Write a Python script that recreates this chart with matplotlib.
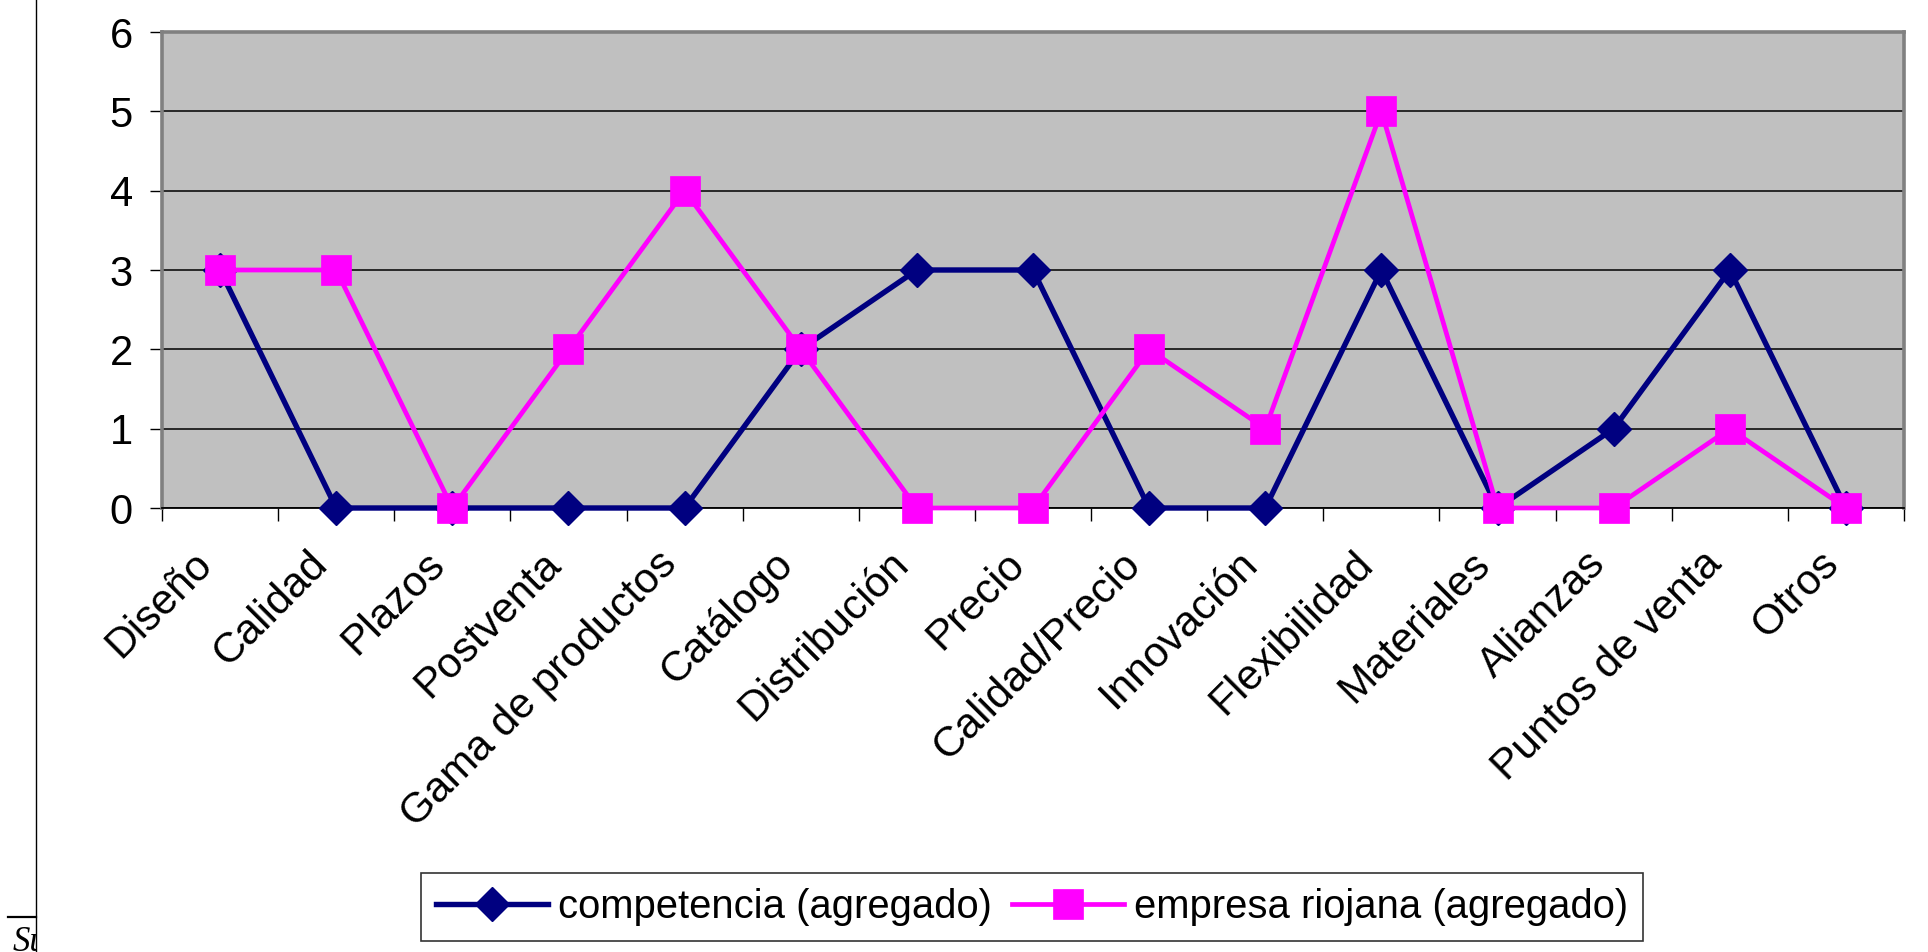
import matplotlib
matplotlib.use("Agg")
import matplotlib.pyplot as plt
from matplotlib.lines import Line2D
from matplotlib.transforms import Bbox, TransformedBbox, ScaledTranslation

plt.rcParams['font.family'] = ['Liberation Sans', 'DejaVu Sans']

categorias = ["Diseño", "Calidad", "Plazos", "Postventa", "Gama de productos",
              "Catálogo", "Distribución", "Precio", "Calidad/Precio", "Innovación",
              "Flexibilidad", "Materiales", "Alianzas", "Puntos de venta", "Otros"]
competencia = [3, 0, 0, 0, 0, 2, 3, 3, 0, 0, 3, 0, 1, 3, 0]
empresa_riojana = [3, 3, 0, 2, 4, 2, 0, 0, 2, 1, 5, 0, 0, 1, 0]
y_ticks = [0, 1, 2, 3, 4, 5, 6]

W, H = 1928, 952
fig = plt.figure(figsize=(W / 100, H / 100), dpi=100)
fig.patch.set_facecolor("white")

ax = fig.add_axes([162 / W, 1 - 508 / H, (1904 - 162) / W, (508 - 32) / H])
ax.set_facecolor("#C0C0C0")

NAVY, MAGENTA = "#000080", "#FF00FF"
style_comp = dict(color=NAVY, lw=3.9, marker="D", ms=17, mec=NAVY, mew=1)
style_emp = dict(color=MAGENTA, lw=3.4, marker="s", ms=21.5, mec=MAGENTA, mew=0.5)

x = list(range(len(categorias)))
ax.plot(x, competencia, zorder=3, clip_on=False, **style_comp)
ax.plot(x, empresa_riojana, zorder=4, clip_on=False, **style_emp)

ax.set_xlim(-0.5, len(categorias) - 0.5)
ax.set_ylim(0, 6)
ax.set_yticks(y_ticks)
ax.set_yticklabels([str(v) for v in y_ticks], fontsize=30)
ax.yaxis.grid(True, color="black", lw=1.1, zorder=1)
ax.set_axisbelow(True)
ax.tick_params(axis="y", length=9, width=1, direction="out", pad=12)

# tick marks at category boundaries, rotated category names under each centre
ax.set_xticks([i - 0.5 for i in range(len(categorias) + 1)])
ax.set_xticklabels([])
ax.tick_params(axis="x", length=9, width=1, direction="out")
label_offset = ScaledTranslation(-14 / 100, -50 / 100, fig.dpi_scale_trans)
for xi, name in zip(x, categorias):
    ax.text(xi, 0, name, transform=ax.get_xaxis_transform() + label_offset,
            fontsize=30.5, rotation=45, ha="right", va="center",
            rotation_mode="anchor")

for side in ("left", "top", "right"):
    ax.spines[side].set_color("#808080")
    ax.spines[side].set_linewidth(2.6)
ax.spines["bottom"].set_color("black")
ax.spines["bottom"].set_linewidth(1.3)
ax.spines["bottom"].set_zorder(2.5)

handles = [Line2D([], [], **style_comp), Line2D([], [], **style_emp)]
leg = fig.legend(handles, ["competencia (agregado)", "empresa riojana (agregado)"],
                 loc="center", bbox_to_anchor=(1032 / W, 1 - 907 / H), ncol=2,
                 fontsize=28.8, frameon=True, fancybox=False, edgecolor="black",
                 handlelength=2.8, handletextpad=0.25, columnspacing=0.5,
                 borderpad=0.37, borderaxespad=0)
leg.get_frame().set_linewidth(1.2)

# page margin lines and clipped caption at the lower left
fig.add_artist(Line2D([36 / W, 36 / W], [0, 1], transform=fig.transFigure,
                      color="black", lw=1.0))
fig.add_artist(Line2D([8 / W, 36 / W], [1 - 917 / H, 1 - 917 / H],
                      transform=fig.transFigure, color="black", lw=1.6))
cap = fig.text(13 / W, 1 - 926 / H, "Su", family="Liberation Serif",
               style="italic", fontsize=25, ha="left", va="top")
cap.set_clip_on(True)
cap.set_clip_box(TransformedBbox(Bbox([[0, 0], [36 / W, 1]]), fig.transFigure))

fig.savefig("out.png", dpi=100, facecolor="white")
